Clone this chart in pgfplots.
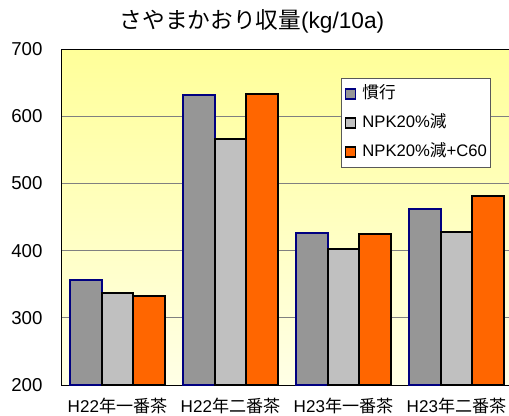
\documentclass[border=0pt]{standalone}
\usepackage{pgfplots}
\pgfplotsset{compat=1.18}
\usepackage{fontspec}
\setmainfont{Liberation Sans}
\newfontfamily\jp{Noto Sans CJK JP}
\definecolor{gA}{HTML}{969696}
\definecolor{gB}{HTML}{C0C0C0}
\definecolor{orA}{HTML}{FF6600}
\definecolor{navyA}{HTML}{000080}
\definecolor{bgTop}{HTML}{FFFF99}
\definecolor{bgBot}{HTML}{FFFFE6}
\begin{document}
\begin{tikzpicture}
\useasboundingbox (0,0) rectangle (381.75pt,311.25pt);
\begin{axis}[
  at={(45.75pt,22.5pt)}, anchor=south west,
  scale only axis, width=339pt, height=252pt,
  xmin=-0.5, xmax=3.5, ymin=200, ymax=700,
  ytick={200,300,400,500,600,700},
  ymajorgrids, grid style={draw=gray, line width=0.75pt},
  ytick style={draw=none},
  xtick={0,1,2,3},
  xticklabels={H22{\jp 年一番茶},H22{\jp 年二番茶},H23{\jp 年一番茶},H23{\jp 年二番茶}},
  xtick style={draw=none},
  extra x ticks={0.5,1.5,2.5},
  extra x tick labels={},
  extra x tick style={grid=none, major tick length=3pt, xtick pos=left, tick style={draw=gray!80!black, line width=0.75pt}},
  /pgf/number format/assume math mode=true,
  yticklabel style={anchor=east, inner sep=0pt, xshift=-13.7pt, font=\fontsize{14pt}{16pt}\selectfont},
  xticklabel style={anchor=base, inner sep=0pt, yshift=-20.3pt, font=\fontsize{12.8pt}{15pt}\selectfont},
  axis line style={black, line width=0.75pt},
  axis background/.style={top color=bgTop, bottom color=bgBot},
  title={{\jp さやまかおり収量}(kg/10a)},
  title style={at={(axis description cs:0.4226,1)}, anchor=base, yshift=9.4pt, inner sep=0pt, font=\fontsize{17pt}{20pt}\selectfont},
  bar width=0.278,
  legend image code/.code={\draw[#1, line width=1.2pt] (0pt,-3.75pt) rectangle (7.5pt,3.75pt);},
  legend style={at={(axis description cs:0.6195,0.9137)}, anchor=north west,
    draw=gray!70!black, line width=0.6pt, fill=white,
    inner xsep=2.5pt, inner ysep=5pt, row sep=8.75pt,
    font=\fontsize{12.5pt}{15pt}\selectfont,
    nodes={inner sep=0pt, text height=10pt, text depth=3pt},
    cells={anchor=west},
    /tikz/every odd column/.append style={column sep=4.5pt}},
]
\addplot[ybar, bar shift=-0.278, draw=navyA, fill=gA, line width=1.5pt]
  coordinates {(0,356) (1,631) (2,426) (3,462)};
\addlegendentry{{\jp 慣行}}
\addplot[ybar, bar shift=0, draw=black, fill=gB, line width=1.5pt]
  coordinates {(0,337) (1,566) (2,402) (3,427)};
\addlegendentry{NPK20\%{\jp 減}}
\addplot[ybar, bar shift=0.278, draw=black, fill=orA, line width=1.5pt]
  coordinates {(0,332) (1,633) (2,424) (3,481)};
\addlegendentry{NPK20\%{\jp 減}+C60}
\end{axis}
\end{tikzpicture}
\end{document}
